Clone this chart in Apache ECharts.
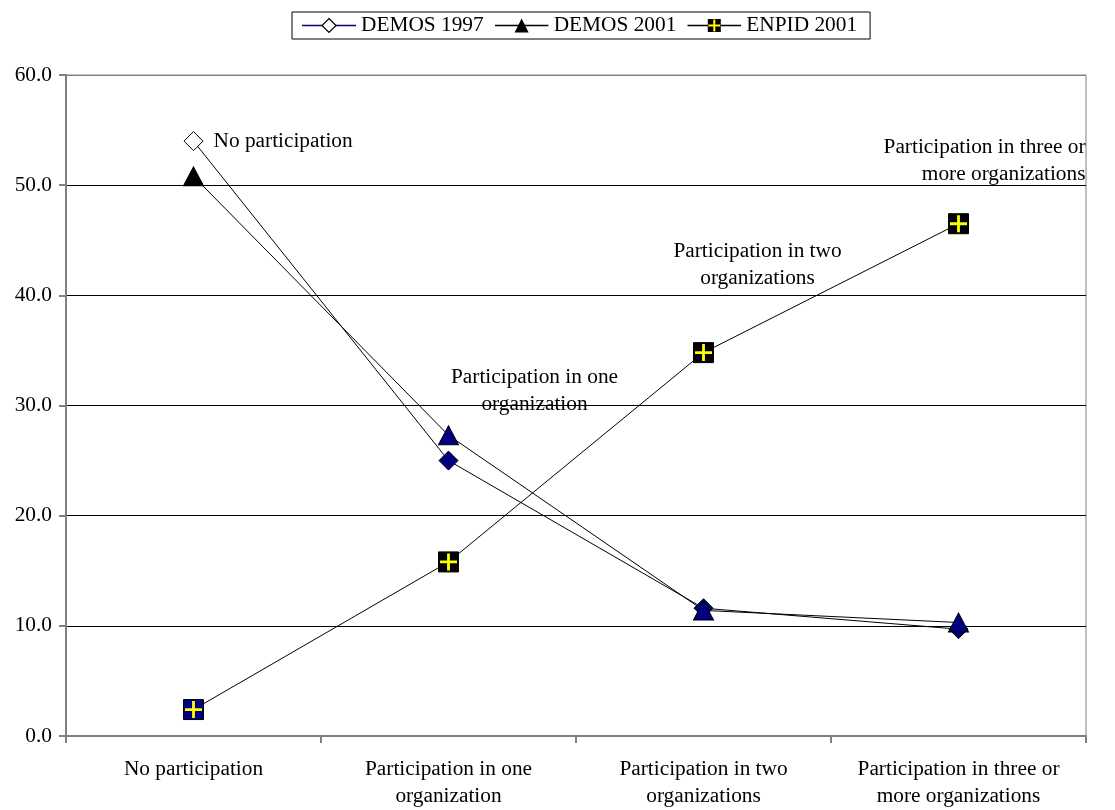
<!DOCTYPE html>
<html>
<head>
<meta charset="utf-8">
<script src="https://cdn.jsdelivr.net/npm/echarts@6/dist/echarts.min.js"></script>
<style>
  html, body { margin: 0; padding: 0; background: #fff; }
  #chart { width: 1115px; height: 810px; }
</style>
</head>
<body>
<div id="chart"></div>
<script>
// Categories (participation levels) and their two-line tick labels
const categories = [
  'No participation',
  'Participation in one organization',
  'Participation in two organizations',
  'Participation in three or more organizations'
];
const tickLabels = [
  'No participation',
  'Participation in one\norganization',
  'Participation in two\norganizations',
  'Participation in three or\nmore organizations'
];

// Share of respondents (%)
const demos1997 = [54.0, 25.0, 11.6, 9.7];
const demos2001 = [50.8, 27.3, 11.4, 10.3];
const enpid2001 = [2.4, 15.8, 34.8, 46.5];

const yTicks = [0, 10, 20, 30, 40, 50, 60];

const FONT = '"Liberation Serif", "Times New Roman", serif';
const FS = 21.33;
const NAVY = '#000080';
const YELLOW = '#ffff00';

// Legend icons: line with marker drawn through it
function svgIcon(inner) {
  const svg = '<svg xmlns="http://www.w3.org/2000/svg" width="54" height="20" viewBox="0 0 54 20">' + inner + '</svg>';
  return 'image://data:image/svg+xml;charset=utf-8,' + encodeURIComponent(svg);
}
const iconDemos97 = svgIcon(
  '<line x1="0" y1="10" x2="54" y2="10" stroke="' + NAVY + '" stroke-width="1.5"/>' +
  '<polygon points="27,3 34,10 27,17 20,10" fill="#fff" stroke="#000" stroke-width="1.2"/>'
);
const iconDemos01 = svgIcon(
  '<line x1="0" y1="10" x2="54" y2="10" stroke="#000" stroke-width="1.5"/>' +
  '<polygon points="27,3 34,17 20,17" fill="#000"/>'
);
const iconEnpid = svgIcon(
  '<line x1="0" y1="10" x2="54" y2="10" stroke="#000" stroke-width="1.5"/>' +
  '<rect x="20.5" y="3.5" width="13" height="13" fill="#000"/>' +
  '<rect x="26" y="4" width="2" height="12" fill="' + YELLOW + '"/>' +
  '<rect x="21" y="9" width="12" height="2" fill="' + YELLOW + '"/>'
);

const crossPath = 'path://M8.5,1h3v7.5h7.5v3h-7.5v7.5h-3v-7.5h-7.5v-3h7.5z';

// Per-point styling: the first point of each series has its own fill
function styled(values, firstColor, restColor, labels) {
  return values.map((v, i) => {
    const d = { value: v, itemStyle: { color: i === 0 ? firstColor : restColor } };
    if (labels && labels[i]) d.label = labels[i];
    return d;
  });
}

const labelBase = {
  show: true,
  color: '#000',
  fontFamily: FONT,
  fontSize: FS,
  lineHeight: 27,
  formatter: p => tickLabels[p.dataIndex]
};

const demos97Labels = [
  Object.assign({}, labelBase, { position: 'right', distance: 10 }),
  null, null, null
];
const enpidLabels = [
  null,
  Object.assign({}, labelBase, { position: 'inside', align: 'center', verticalAlign: 'middle', offset: [86, -171] }),
  Object.assign({}, labelBase, { position: 'inside', align: 'center', verticalAlign: 'middle', offset: [54, -88] }),
  Object.assign({}, labelBase, { position: 'inside', align: 'right', verticalAlign: 'middle', offset: [127, -63] })
];

const chart = echarts.init(document.getElementById('chart'), null, { renderer: 'canvas' });

chart.setOption({
  backgroundColor: '#fff',
  animation: false,
  textStyle: { fontFamily: FONT },
  legend: {
    top: 12,
    left: 292,
    padding: [3, 13, 3, 10],
    itemGap: 11,
    itemWidth: 54,
    itemHeight: 20,
    borderColor: '#000',
    borderWidth: 1,
    textStyle: { fontFamily: FONT, fontSize: FS, color: '#000' },
    data: [
      { name: 'DEMOS 1997', icon: iconDemos97 },
      { name: 'DEMOS 2001', icon: iconDemos01 },
      { name: 'ENPID 2001', icon: iconEnpid }
    ]
  },
  grid: {
    left: 66, right: 29, top: 75, bottom: 71,
    show: true,
    borderColor: '#808080',
    borderWidth: 1,
    containLabel: false
  },
  xAxis: {
    type: 'category',
    data: categories,
    boundaryGap: true,
    axisLine: { lineStyle: { color: '#808080', width: 2 } },
    axisTick: { show: true, interval: 0, length: 7, lineStyle: { color: '#808080', width: 2 } },
    axisLabel: {
      interval: 0,
      margin: 20,
      color: '#000',
      fontFamily: FONT,
      fontSize: FS,
      lineHeight: 27,
      formatter: (v, i) => tickLabels[i]
    },
    splitLine: { show: false }
  },
  yAxis: {
    type: 'value',
    min: yTicks[0],
    max: yTicks[yTicks.length - 1],
    interval: 10,
    axisLine: { show: true, lineStyle: { color: '#808080', width: 2 } },
    axisTick: { show: true, length: 7, lineStyle: { color: '#808080', width: 2 } },
    axisLabel: {
      margin: 14,
      color: '#000',
      fontFamily: FONT,
      fontSize: FS,
      formatter: v => v.toFixed(1)
    },
    splitLine: {
      show: true,
      lineStyle: { color: ['#808080', '#000', '#000', '#000', '#000', '#000', '#808080'], width: 1 }
    }
  },
  series: [
    {
      name: 'DEMOS 1997',
      type: 'line',
      data: styled(demos1997, '#fff', NAVY, demos97Labels),
      symbol: 'diamond',
      symbolSize: 19,
      lineStyle: { color: '#000', width: 1 },
      itemStyle: { borderColor: '#000', borderWidth: 1 },
      z: 3
    },
    {
      name: 'DEMOS 2001',
      type: 'line',
      data: styled(demos2001, '#000', NAVY),
      symbol: 'triangle',
      symbolSize: [20, 19],
      lineStyle: { color: '#000', width: 1 },
      itemStyle: { borderColor: '#000', borderWidth: 1 },
      z: 3
    },
    {
      name: 'ENPID 2001',
      type: 'line',
      data: styled(enpid2001, NAVY, '#000', enpidLabels),
      symbol: 'rect',
      symbolSize: 20,
      lineStyle: { color: '#000', width: 1 },
      itemStyle: { borderColor: '#000', borderWidth: 1 },
      z: 4
    },
    {
      // yellow cross drawn on top of each ENPID marker
      name: 'ENPID 2001 cross',
      type: 'line',
      data: enpid2001,
      symbol: crossPath,
      symbolSize: 17,
      showAllSymbol: true,
      lineStyle: { width: 0, opacity: 0 },
      itemStyle: { color: YELLOW },
      silent: true,
      z: 5
    }
  ]
});
</script>
</body>
</html>
